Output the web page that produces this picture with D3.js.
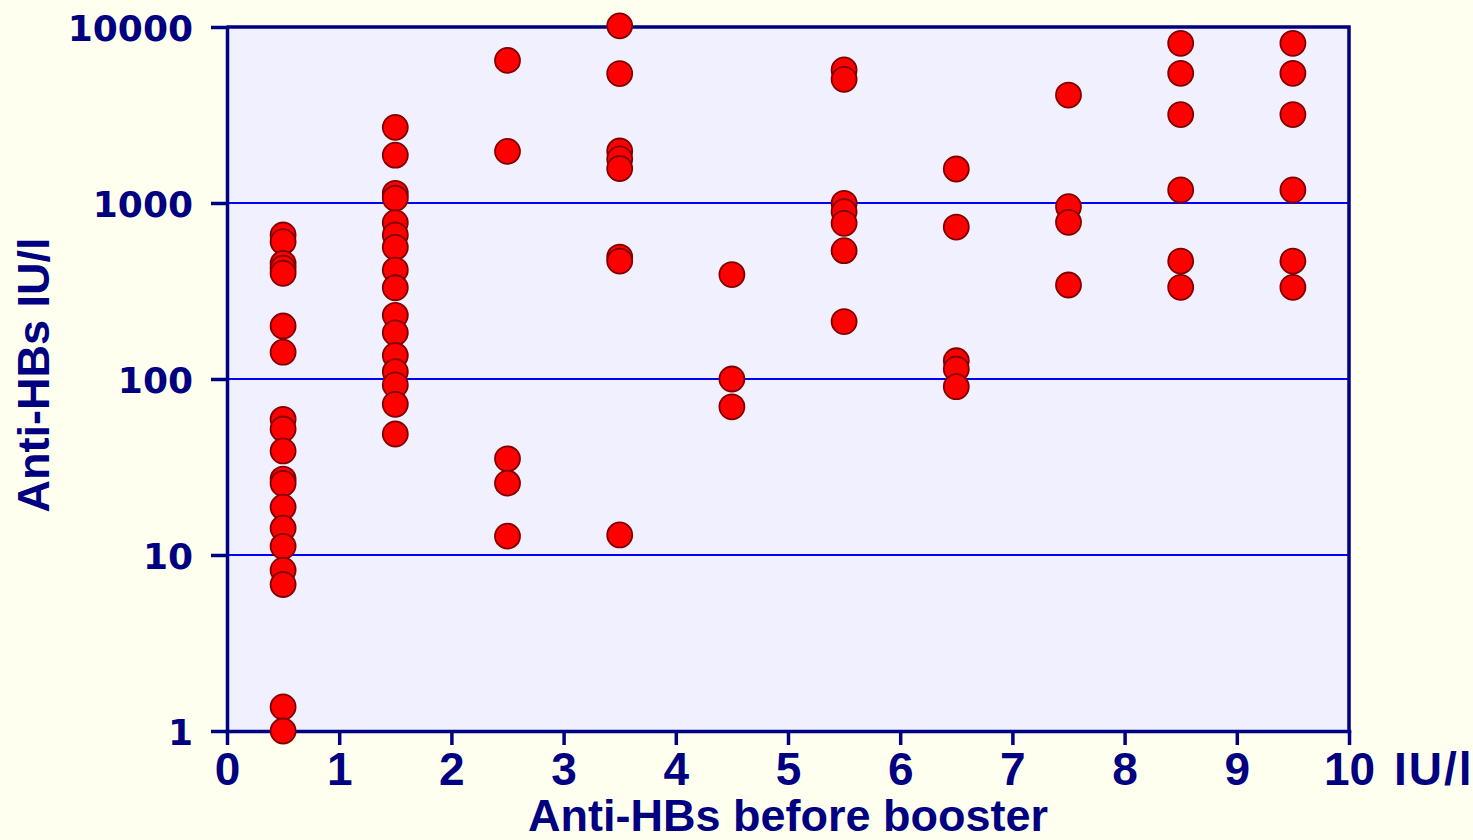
<!DOCTYPE html>
<html>
<head>
<meta charset="utf-8">
<script src="https://cdn.jsdelivr.net/npm/d3@7"></script>
<style>
  html, body { margin: 0; padding: 0; background: #FFFFF0; }
  svg { display: block; }
</style>
</head>
<body>
<svg id="chart" width="1473" height="840"></svg>
<script>
// Anti-HBs before booster, by 1 IU/l band (plotted at the band midpoint)
const bandMidpoints = [0.5, 1.5, 2.5, 3.5, 4.5, 5.5, 6.5, 7.5, 8.5, 9.5];

// Anti-HBs after booster (IU/l), one array per band
const band0to1 = [658, 603, 454, 426, 399, 200, 142, 59, 52, 39, 27, 25.5, 18.7, 14.2, 11.2, 8.2, 6.8, 1.37, 1.0];
const band1to2 = [2690, 1870, 1135, 1064, 773, 658, 560, 416, 330, 230, 183, 136, 110, 92.5, 71.8, 48.7];
const band2to3 = [6460, 1965, 35.2, 25.6, 12.8];
const band3to4 = [10150, 5440, 1975, 1780, 1570, 493, 468, 13.0];
const band4to5 = [392, 100, 69.5];
const band5to6 = [5700, 5046, 996, 893, 767, 536, 212];
const band6to7 = [1560, 730, 127, 114, 90.4];
const band7to8 = [4105, 953, 777, 342];
const band8to9 = [8080, 5455, 3180, 1186, 468, 332];
const band9to10 = [8080, 5455, 3180, 1186, 468, 332];

const xTickValues = [0, 1, 2, 3, 4, 5, 6, 7, 8, 9, 10];
const yTickValues = [1, 10, 100, 1000, 10000];
const gridValues = [10, 100, 1000];

const xTitle = "Anti-HBs before booster";
const yTitle = "Anti-HBs IU/l";
const xUnit = "IU/l";

const bands = [band0to1, band1to2, band2to3, band3to4, band4to5,
               band5to6, band6to7, band7to8, band8to9, band9to10];
const points = [];
bands.forEach((vals, i) => vals.forEach(v => points.push({ x: bandMidpoints[i], y: v })));

const navy = "#000080";
const svg = d3.select("#chart");

const plotLeft = 227, plotRight = 1349, plotTop = 27, plotBottom = 731;
const x = d3.scaleLinear().domain([0, 10]).range([plotLeft, plotRight]);
const y = d3.scaleLog().domain([1, 10000]).range([plotBottom, plotTop]);

// plot area
svg.append("rect")
  .attr("x", plotLeft).attr("y", plotTop)
  .attr("width", plotRight - plotLeft).attr("height", plotBottom - plotTop)
  .attr("fill", "#F0F0FF");

// horizontal gridlines
svg.append("g").selectAll("line")
  .data(gridValues).join("line")
  .attr("x1", plotLeft).attr("x2", plotRight)
  .attr("y1", d => y(d)).attr("y2", d => y(d))
  .attr("stroke", "#0000FF").attr("stroke-width", 2);

// top and right frame
svg.append("path")
  .attr("d", `M${plotLeft},${plotTop}H${plotRight}V${plotBottom}`)
  .attr("fill", "none").attr("stroke", navy).attr("stroke-width", 3.5);

// y axis
const yAxis = svg.append("g")
  .attr("transform", `translate(${plotLeft},0)`)
  .call(d3.axisLeft(y).tickValues(yTickValues).tickFormat(d3.format("d"))
    .tickSize(16).tickSizeOuter(0).tickPadding(18));
yAxis.select(".domain").attr("stroke", navy).attr("stroke-width", 3.5);
yAxis.selectAll(".tick line").attr("stroke", navy).attr("stroke-width", 3.5);
yAxis.selectAll(".tick text")
  .attr("fill", navy)
  .attr("font-family", "'DejaVu Sans', Verdana, sans-serif")
  .attr("font-weight", "bold")
  .attr("font-size", 36)
  .attr("dy", "0.37em");

// x axis
const xAxis = svg.append("g")
  .attr("transform", `translate(0,${plotBottom})`)
  .call(d3.axisBottom(x).tickValues(xTickValues).tickFormat(d3.format("d"))
    .tickSize(14).tickSizeOuter(0));
xAxis.select(".domain").attr("stroke", navy).attr("stroke-width", 3.5);
xAxis.selectAll(".tick line").attr("stroke", navy).attr("stroke-width", 3.5);
xAxis.selectAll(".tick text")
  .attr("fill", navy)
  .attr("font-family", "'Liberation Sans', Arial, sans-serif")
  .attr("font-weight", "bold")
  .attr("font-size", 46)
  .attr("dy", null)
  .attr("y", 54);
svg.selectAll("path.domain").attr("stroke-linecap", "square");

// unit after the last x tick label
svg.append("text")
  .attr("x", x(10) + 45).attr("y", plotBottom + 54)
  .attr("fill", navy)
  .attr("font-family", "'Liberation Sans', Arial, sans-serif")
  .attr("font-weight", "bold")
  .attr("font-size", 46)
  .attr("letter-spacing", 2)
  .text(xUnit);

// axis titles
svg.append("text")
  .attr("x", x(5)).attr("y", 831)
  .attr("text-anchor", "middle")
  .attr("fill", navy)
  .attr("font-family", "'Liberation Sans', Arial, sans-serif")
  .attr("font-weight", "bold")
  .attr("font-size", 45)
  .text(xTitle);

svg.append("text")
  .attr("transform", `translate(49,375) rotate(-90)`)
  .attr("text-anchor", "middle")
  .attr("fill", navy)
  .attr("font-family", "'Liberation Sans', Arial, sans-serif")
  .attr("font-weight", "bold")
  .attr("font-size", 45)
  .text(yTitle);

// data points
svg.append("g").selectAll("circle")
  .data(points).join("circle")
  .attr("cx", d => x(d.x))
  .attr("cy", d => y(d.y))
  .attr("r", 12.5)
  .attr("fill", "#FF0000")
  .attr("stroke", "#800000")
  .attr("stroke-width", 1.8);
</script>
</body>
</html>
